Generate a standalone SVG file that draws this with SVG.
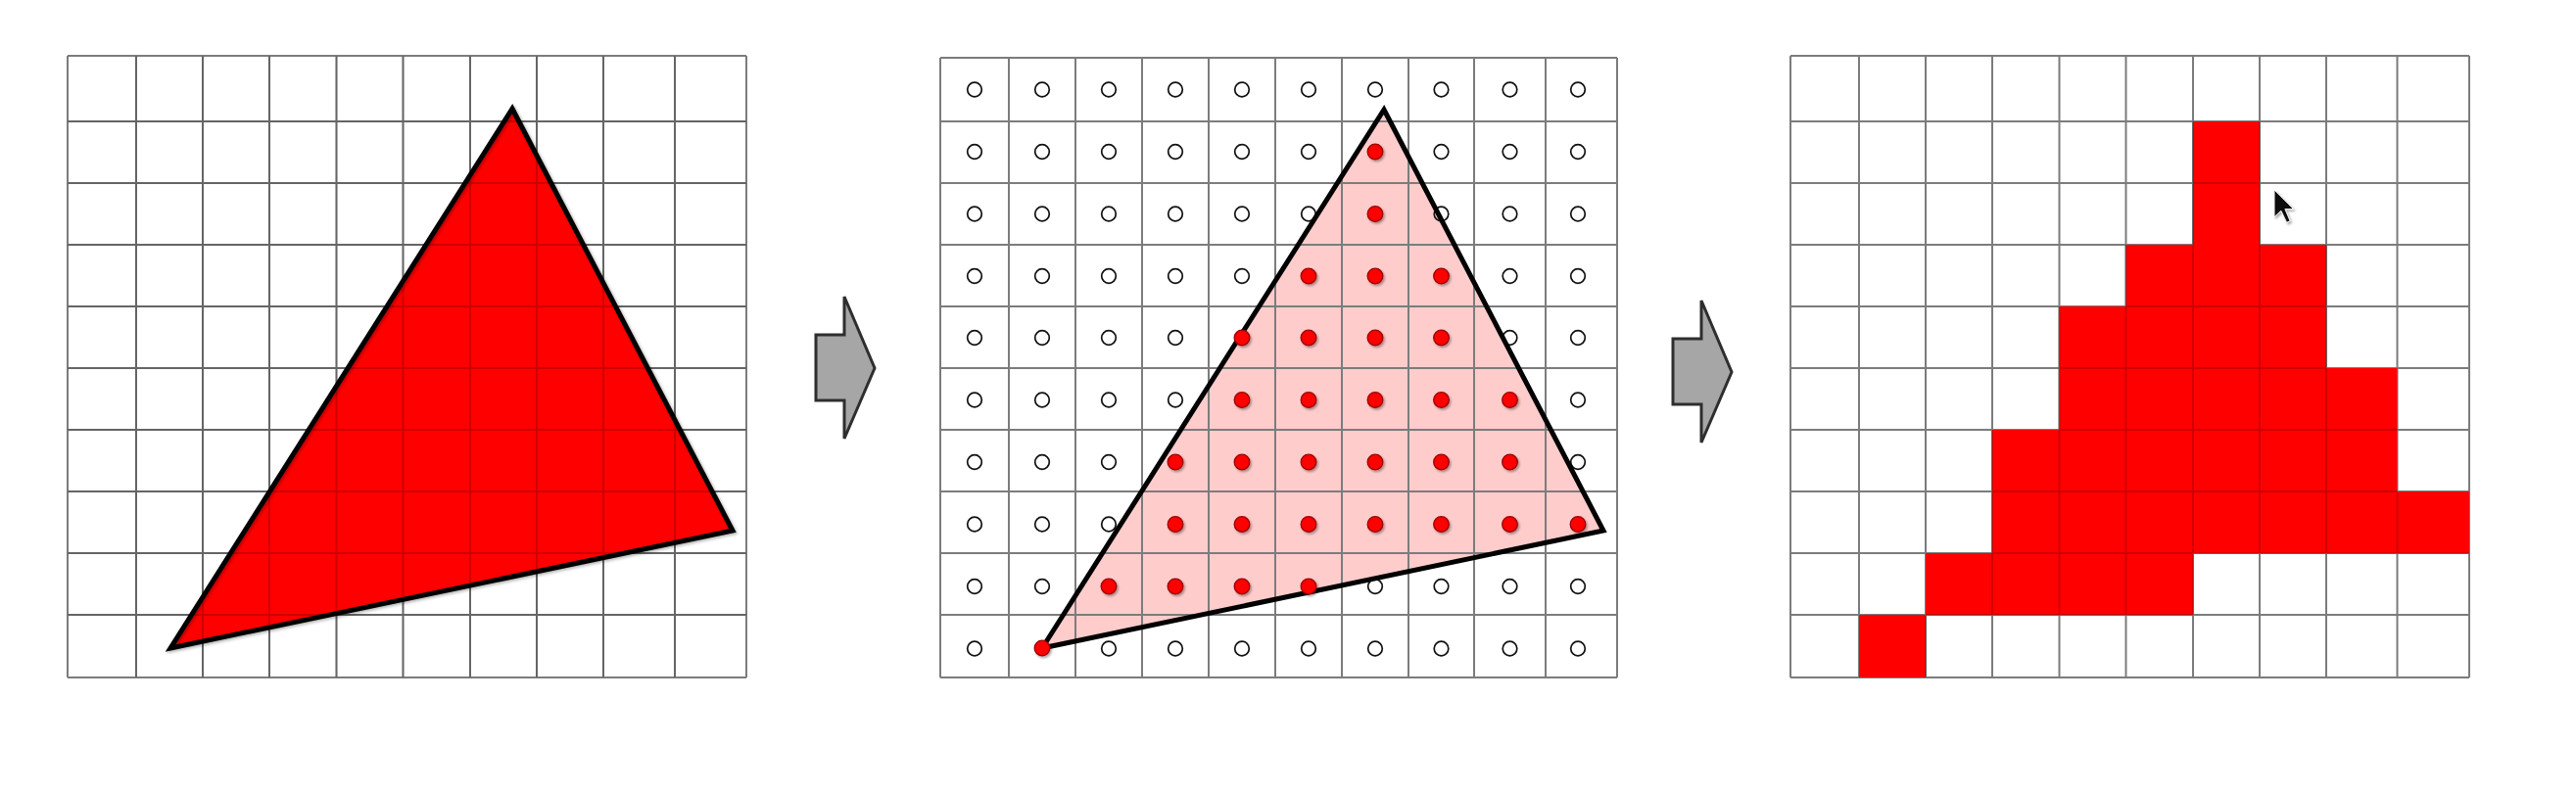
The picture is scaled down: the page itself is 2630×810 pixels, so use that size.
<svg xmlns="http://www.w3.org/2000/svg" xmlns:xlink="http://www.w3.org/1999/xlink" width="2630" height="810" viewBox="0 0 2630 810">
<style>
.grid{fill:none;stroke:#7c7c7c;stroke-width:2}
.gridfaint{fill:none;stroke:#000;stroke-opacity:0.18;stroke-width:2}
.tri{fill:none;stroke:#000;stroke-width:5;stroke-linejoin:miter}
.ho{fill:none;stroke:#111;stroke-width:1.7}
.rd{fill:#ff0000;stroke:#9a0000;stroke-width:1.3}
.cell{fill:#ff0000}
.arrow{fill:#a6a6a6;stroke:#2e2e2e;stroke-width:3;stroke-linejoin:miter}
</style>
<defs>
<filter id="sh" x="-50%" y="-50%" width="200%" height="200%">
<feDropShadow dx="1.5" dy="1.8" stdDeviation="1.2" flood-color="#000" flood-opacity="0.35"/>
</filter>
<filter id="tsh" x="-10%" y="-10%" width="120%" height="120%">
<feDropShadow dx="1.5" dy="1.5" stdDeviation="1.5" flood-color="#000" flood-opacity="0.3"/>
</filter>
<circle id="ho" class="ho" cx="0" cy="0" r="7.3"/>
<circle id="rd" class="rd" cx="0" cy="0" r="7.8" filter="url(#sh)"/>
</defs>
<rect width="2630" height="810" fill="#fff"/>

<g id="panel-left">
<path id="gridL" class="grid" d="M69 57V692M139 57V692M207 57V692M275 57V692M343.5 57V692M411.5 57V692M480 57V692M548 57V692M616 57V692M689 57V692M762 57V692M69 57H762M69 124H762M69 187H762M69 250H762M69 313H762M69 376H762M69 439H762M69 502H762M69 565H762M69 628H762M69 692H762"/>
<polygon points="523,111 748,542 174,662" fill="#ff0000"/>
<path class="gridfaint" d="M139 57V692M207 57V692M275 57V692M343.5 57V692M411.5 57V692M480 57V692M548 57V692M616 57V692M689 57V692M69 124H762M69 187H762M69 250H762M69 313H762M69 376H762M69 439H762M69 502H762M69 565H762M69 628H762"/>
<polygon class="tri" points="523,111 748,542 174,662" filter="url(#tsh)"/>
</g>

<g id="panel-middle">
<polygon points="1413,112 1637,542 1064,662" fill="#ffcccc"/>
<path class="grid" d="M960 59V692M1030 59V692M1098 59V692M1166 59V692M1234 59V692M1302 59V692M1370 59V692M1438 59V692M1505 59V692M1578 59V692M1651 59V692M960 59H1651M960 124H1651M960 187H1651M960 250H1651M960 313H1651M960 376H1651M960 439H1651M960 502H1651M960 565H1651M960 628H1651M960 692H1651"/>
<g id="samples-out">
<use href="#ho" x="995" y="91.5"/><use href="#ho" x="1064" y="91.5"/><use href="#ho" x="1132" y="91.5"/><use href="#ho" x="1200" y="91.5"/><use href="#ho" x="1268" y="91.5"/><use href="#ho" x="1336" y="91.5"/><use href="#ho" x="1404" y="91.5"/><use href="#ho" x="1471.5" y="91.5"/><use href="#ho" x="1541.5" y="91.5"/><use href="#ho" x="1611" y="91.5"/>
<use href="#ho" x="995" y="155"/><use href="#ho" x="1064" y="155"/><use href="#ho" x="1132" y="155"/><use href="#ho" x="1200" y="155"/><use href="#ho" x="1268" y="155"/><use href="#ho" x="1336" y="155"/><use href="#ho" x="1471.5" y="155"/><use href="#ho" x="1541.5" y="155"/><use href="#ho" x="1611" y="155"/>
<use href="#ho" x="995" y="218.5"/><use href="#ho" x="1064" y="218.5"/><use href="#ho" x="1132" y="218.5"/><use href="#ho" x="1200" y="218.5"/><use href="#ho" x="1268" y="218.5"/><use href="#ho" x="1336" y="218.5"/><use href="#ho" x="1471.5" y="218.5"/><use href="#ho" x="1541.5" y="218.5"/><use href="#ho" x="1611" y="218.5"/>
<use href="#ho" x="995" y="282"/><use href="#ho" x="1064" y="282"/><use href="#ho" x="1132" y="282"/><use href="#ho" x="1200" y="282"/><use href="#ho" x="1268" y="282"/><use href="#ho" x="1541.5" y="282"/><use href="#ho" x="1611" y="282"/>
<use href="#ho" x="995" y="345"/><use href="#ho" x="1064" y="345"/><use href="#ho" x="1132" y="345"/><use href="#ho" x="1200" y="345"/><use href="#ho" x="1541.5" y="345"/><use href="#ho" x="1611" y="345"/>
<use href="#ho" x="995" y="408.5"/><use href="#ho" x="1064" y="408.5"/><use href="#ho" x="1132" y="408.5"/><use href="#ho" x="1200" y="408.5"/><use href="#ho" x="1611" y="408.5"/>
<use href="#ho" x="995" y="472"/><use href="#ho" x="1064" y="472"/><use href="#ho" x="1132" y="472"/><use href="#ho" x="1611" y="472"/>
<use href="#ho" x="995" y="535.5"/><use href="#ho" x="1064" y="535.5"/><use href="#ho" x="1132" y="535.5"/>
<use href="#ho" x="995" y="599"/><use href="#ho" x="1064" y="599"/><use href="#ho" x="1404" y="599"/><use href="#ho" x="1471.5" y="599"/><use href="#ho" x="1541.5" y="599"/><use href="#ho" x="1611" y="599"/>
<use href="#ho" x="995" y="662.5"/><use href="#ho" x="1132" y="662.5"/><use href="#ho" x="1200" y="662.5"/><use href="#ho" x="1268" y="662.5"/><use href="#ho" x="1336" y="662.5"/><use href="#ho" x="1404" y="662.5"/><use href="#ho" x="1471.5" y="662.5"/><use href="#ho" x="1541.5" y="662.5"/><use href="#ho" x="1611" y="662.5"/>
</g>
<polygon class="tri" points="1413,112 1637,542 1064,662"/>
<g id="samples-in">
<use href="#rd" x="1404" y="155"/>
<use href="#rd" x="1404" y="218.5"/>
<use href="#rd" x="1336" y="282"/><use href="#rd" x="1404" y="282"/><use href="#rd" x="1471.5" y="282"/>
<use href="#rd" x="1268" y="345"/><use href="#rd" x="1336" y="345"/><use href="#rd" x="1404" y="345"/><use href="#rd" x="1471.5" y="345"/>
<use href="#rd" x="1268" y="408.5"/><use href="#rd" x="1336" y="408.5"/><use href="#rd" x="1404" y="408.5"/><use href="#rd" x="1471.5" y="408.5"/><use href="#rd" x="1541.5" y="408.5"/>
<use href="#rd" x="1200" y="472"/><use href="#rd" x="1268" y="472"/><use href="#rd" x="1336" y="472"/><use href="#rd" x="1404" y="472"/><use href="#rd" x="1471.5" y="472"/><use href="#rd" x="1541.5" y="472"/>
<use href="#rd" x="1200" y="535.5"/><use href="#rd" x="1268" y="535.5"/><use href="#rd" x="1336" y="535.5"/><use href="#rd" x="1404" y="535.5"/><use href="#rd" x="1471.5" y="535.5"/><use href="#rd" x="1541.5" y="535.5"/><use href="#rd" x="1611" y="535.5"/>
<use href="#rd" x="1132" y="599"/><use href="#rd" x="1200" y="599"/><use href="#rd" x="1268" y="599"/><use href="#rd" x="1336" y="599"/>
<use href="#rd" x="1064" y="662"/>
</g>
</g>

<g id="panel-right">
<path class="grid" d="M1828 57V692M1898 57V692M1966 57V692M2034 57V692M2102.5 57V692M2170.5 57V692M2239 57V692M2307 57V692M2375 57V692M2447.5 57V692M2521 57V692M1828 57H2521M1828 124H2521M1828 187H2521M1828 250H2521M1828 313H2521M1828 376H2521M1828 439H2521M1828 502H2521M1828 565H2521M1828 628H2521M1828 692H2521"/>
<g id="pixels">
<rect class="cell" x="2239" y="124" width="68" height="126"/>
<rect class="cell" x="2170.5" y="250" width="204.5" height="63"/>
<rect class="cell" x="2102.5" y="313" width="272.5" height="63"/>
<rect class="cell" x="2102.5" y="376" width="345" height="63"/>
<rect class="cell" x="2034" y="439" width="413.5" height="63"/>
<rect class="cell" x="2034" y="502" width="487" height="63"/>
<rect class="cell" x="1966" y="565" width="273" height="63"/>
<rect class="cell" x="1898" y="628" width="68" height="64"/>
</g>
<path class="gridfaint" d="M2102.5 313V439M2170.5 250V565M2239 124V628M2307 124V565M2375 250V565M2447.5 502V565M2034 439V628M2102.5 439V628M2170.5 565V628M1966 628V692M2239 187H2307M2170.5 313H2375M2102.5 376H2375M2102.5 439H2447.5M2034 502H2447.5M2034 565H2521M1966 628H2239"/>
</g>

<g id="connectors">
<polygon id="arrow-1" class="arrow" points="833,342 862,342 862,303 893,376 862,448 862,409 833,409"/>
<polygon id="arrow-2" class="arrow" points="1708,346 1737,346 1737,307 1768,380 1737,452 1737,413 1708,413"/>
</g>

<g id="cursor" filter="url(#sh)">
<polygon points="2322,194 2322,218 2328,212.5 2333,223 2336,221.5 2331.5,211 2339,211" fill="#111" stroke="#fff" stroke-width="0.8" stroke-linejoin="round" transform="translate(2322 194) scale(1.15) translate(-2322 -194)"/>
</g>
</svg>
